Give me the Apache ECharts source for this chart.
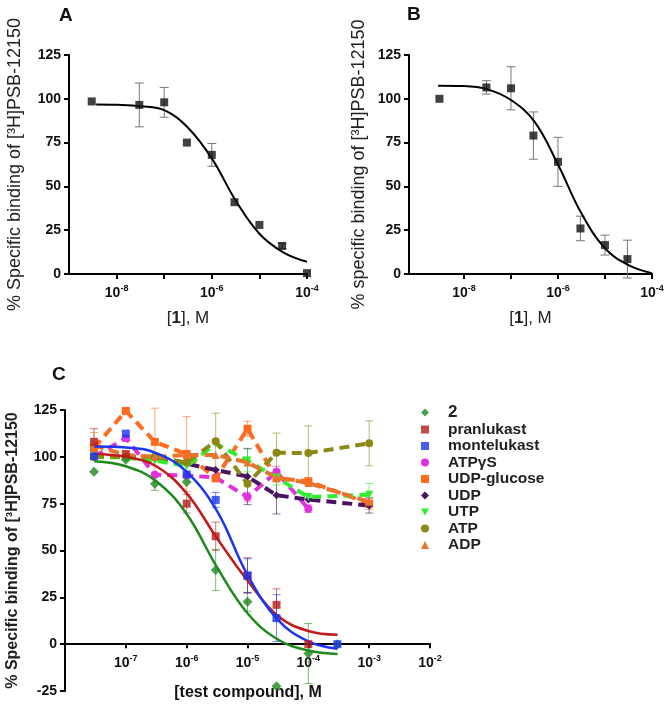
<!DOCTYPE html>
<html>
<head>
<meta charset="utf-8">
<script src="https://cdn.jsdelivr.net/npm/echarts@6/dist/echarts.min.js"></script>
<style>
  html, body { margin: 0; padding: 0; background: #fff; }
  #chart { width: 666px; height: 704px; }
</style>
</head>
<body>
<div id="chart"></div>
<script>
// panel A: [1] at receptor, black squares + fitted curve
var concA = [3e-9, 3e-8, 1e-7, 3e-7, 1e-6, 3e-6, 1e-5, 3e-5, 1e-4];
var bindA = [98.5, 96.5, 98, 75, 68, 41, 28, 16, 0.5];
var sdA = [null, 12.5, 8.5, null, 6.5, null, null, 1.5, null];
var fitLogA = [-8.43, -8, -7.5, -7, -6.5, -6, -5.5, -5, -4.5, -4];
var fitA = [96.8, 96.6, 95.8, 93.5, 83.5, 66, 42, 23, 12.4, 7];

// panel B
var concB = [3e-9, 3e-8, 1e-7, 3e-7, 1e-6, 3e-6, 1e-5, 3e-5];
var bindB = [100, 106.5, 106, 79, 64, 26, 16.5, 8.5];
var sdB = [null, 3.8, 12.3, 13.5, 14, 7, 5.7, 10.8];
var fitLogB = [-8.55, -8, -7.5, -7, -6.5, -6, -5.5, -5, -4.5, -4];
var fitB = [107.5, 107.3, 105.4, 99.3, 87, 62.5, 34.5, 14.7, 5.1, 0.5];

// panel C: test compounds
var concC = [3e-8, 1e-7, 3e-7, 1e-6, 3e-6, 1e-5, 3e-5, 1e-4, 3e-4, 1e-3];
var cmp2 = [92, 98.5, 85.6, 86.5, 39.6, 22.6, -22.5, -5, 0, null];
var sd2 = [null, null, 3.5, null, 11, 5, null, 16, null, null];
var pranlukast = [108, 101.5, null, 75, 57.6, 36.6, 21, 0, null, null];
var sdPran = [7, null, null, 5, 7.5, 9.5, 8.5, null, null, null];
var montelukast = [100.3, 112.4, null, 90.6, 77, 36.6, 13.9, null, 0, null];
var sdMonte = [null, null, null, null, 4, 9, 12.5, null, null, null];
var atpgs = [100, 110, 90.5, 90, 89, 78.5, 92, 72.3, null, null];
var sdAtpgs = [null, null, null, null, null, 2.5, 3, 2, null, null];
var udpGlucose = [104.7, 124.5, 108, 101.5, 88.5, 115, 88.5, 87, null, 75];
var sdUdpGlc = [null, null, 18, 20, null, 4, null, null, null, 3];
var udp = [100, 100, 99, 96.3, 93, 89.5, 79.5, 77.2, null, 74];
var sdUdp = [null, null, null, null, null, 15, 10, null, null, 4];
var utp = [100, 99.5, 98, 95, 107, 98, 89, 78.5, null, 79.8];
var sdUtp = [null, null, null, null, null, 6, 4, null, null, 6];
var atp = [100, 100, 100, 97, 108.3, 85.6, 102.2, 102, null, 107.2];
var sdAtp = [null, null, null, null, 15, null, 10.5, 14.5, null, 12];
var adp = [106, 101, 100, 101, 101, 97, 89, 86, null, 76];
var sdAdp = [7, null, null, null, null, null, null, null, null, null];

// fitted curves in C
var fitLogC = [-7.52, -7, -6.5, -6, -5.5, -5, -4.5, -4, -3.52];
var fit2 = [97.7, 95, 87, 69.5, 41, 16.5, 2.5, -3.4, -5.2];
var fitPran = [101.7, 100, 95, 80.5, 56.5, 34, 15, 7, 5];
var fitMonte = [105.5, 105, 102, 92, 71, 37, 13, 1.5, -2.4];

var FONT = '"Liberation Sans", Arial, sans-serif';

function pts(conc, vals) {
  var out = [];
  for (var i = 0; i < conc.length; i++) {
    if (vals[i] != null) out.push([Math.log10(conc[i]), vals[i]]);
  }
  return out;
}
function curve(logs, vals) {
  return logs.map(function (l, i) { return [l, vals[i]]; });
}
function errs(conc, vals, sd) {
  var out = [];
  for (var i = 0; i < conc.length; i++) {
    if (vals[i] != null && sd[i] != null) {
      out.push([Math.log10(conc[i]), vals[i] - sd[i], vals[i] + sd[i]]);
    }
  }
  return out;
}

function errRender(color, cap) {
  return function (params, api) {
    var x = api.value(0);
    var a = api.coord([x, api.value(1)]);
    var b = api.coord([x, api.value(2)]);
    var st = { stroke: color, lineWidth: 1 };
    return {
      type: 'group',
      children: [
        { type: 'line', shape: { x1: a[0], y1: a[1], x2: b[0], y2: b[1] }, style: st },
        { type: 'line', shape: { x1: a[0] - cap, y1: a[1], x2: a[0] + cap, y2: a[1] }, style: st },
        { type: 'line', shape: { x1: b[0] - cap, y1: b[1], x2: b[0] + cap, y2: b[1] }, style: st }
      ]
    };
  };
}

var expRich = {
  b: { fontFamily: FONT, fontWeight: 'bold', fontSize: 14, lineHeight: 18, color: '#111' },
  e: { fontFamily: FONT, fontWeight: 'bold', fontSize: 9, lineHeight: 10, color: '#111', verticalAlign: 'top' }
};
function expLabel(v) { return '{b|10}{e|' + Math.round(v) + '}'; }

var axisLine = { show: true, onZero: false, lineStyle: { color: '#000', width: 2 } };
var tick = { show: true, length: 5, lineStyle: { color: '#000', width: 2 } };
var yLabel = { fontFamily: FONT, fontWeight: 'bold', fontSize: 14, color: '#111', margin: 8 };

function xAxisAB(idx, min) {
  return {
    type: 'value', gridIndex: idx, min: min, max: -4,
    axisLine: axisLine,
    axisTick: Object.assign({ customValues: [-8, -7, -6, -5, -4] }, tick),
    axisLabel: { customValues: [-8, -6, -4], formatter: expLabel, rich: expRich, margin: 10 },
    splitLine: { show: false },
    name: '[{k|1}], M', nameLocation: 'middle', nameGap: 36,
    nameTextStyle: {
      fontFamily: FONT, fontSize: 17, color: '#222',
      rich: { k: { fontFamily: FONT, fontSize: 17, fontWeight: 'bold', color: '#222' } }
    }
  };
}
function yAxisAB(idx, name, gap) {
  return {
    type: 'value', gridIndex: idx, min: 0, max: 125, interval: 25,
    axisLine: axisLine, axisTick: tick, axisLabel: yLabel,
    splitLine: { show: false },
    name: name, nameLocation: 'middle', nameGap: gap,
    nameTextStyle: { fontFamily: FONT, fontSize: 18, color: '#222' }
  };
}

var downTri = 'path://M0,0L10,0L5,9Z';
var cSeries = [
  { name: '2', data: cmp2, sd: sd2, color: '#1e8a1e', symbol: 'diamond', size: 10, line: false },
  { name: 'pranlukast', data: pranlukast, sd: sdPran, color: '#b51a1a', symbol: 'rect', size: 8, line: false },
  { name: 'montelukast', data: montelukast, sd: sdMonte, color: '#1a36f0', symbol: 'rect', size: 8, line: false },
  { name: 'ATPγS', data: atpgs, sd: sdAtpgs, color: '#e030e0', symbol: 'circle', size: 8, line: true },
  { name: 'UDP-glucose', data: udpGlucose, sd: sdUdpGlc, color: '#ff6a1e', symbol: 'rect', size: 8, line: true },
  { name: 'UDP', data: udp, sd: sdUdp, color: '#4a1462', symbol: 'diamond', size: 8, line: true },
  { name: 'UTP', data: utp, sd: sdUtp, color: '#2ef02e', symbol: downTri, size: 8, line: true },
  { name: 'ATP', data: atp, sd: sdAtp, color: '#8c8a16', symbol: 'circle', size: 8, line: true },
  { name: 'ADP', data: adp, sd: sdAdp, color: '#e8742c', symbol: 'triangle', size: 8, line: true }
];

var series = [];
// panel A
series.push({ type: 'custom', xAxisIndex: 0, yAxisIndex: 0, z: 1, renderItem: errRender('#777', 4.5),
  encode: { x: 0, y: [1, 2] }, data: errs(concA, bindA, sdA) });
series.push({ type: 'line', xAxisIndex: 0, yAxisIndex: 0, z: 2, smooth: 0.4, showSymbol: false,
  lineStyle: { color: '#000', width: 2 }, data: curve(fitLogA, fitA) });
series.push({ type: 'scatter', xAxisIndex: 0, yAxisIndex: 0, z: 3, symbol: 'rect', symbolSize: 8,
  itemStyle: { color: '#111' }, data: pts(concA, bindA) });
// panel B
series.push({ type: 'custom', xAxisIndex: 1, yAxisIndex: 1, z: 1, renderItem: errRender('#777', 4.5),
  encode: { x: 0, y: [1, 2] }, data: errs(concB, bindB, sdB) });
series.push({ type: 'line', xAxisIndex: 1, yAxisIndex: 1, z: 2, smooth: 0.4, showSymbol: false,
  lineStyle: { color: '#000', width: 2 }, data: curve(fitLogB, fitB) });
series.push({ type: 'scatter', xAxisIndex: 1, yAxisIndex: 1, z: 3, symbol: 'rect', symbolSize: 8,
  itemStyle: { color: '#111' }, data: pts(concB, bindB) });
// panel C
cSeries.forEach(function (s) {
  series.push({ type: 'custom', xAxisIndex: 2, yAxisIndex: 2, z: 1,
    renderItem: errRender(echarts.color.modifyAlpha(s.color, 0.6), 4),
    encode: { x: 0, y: [1, 2] }, data: errs(concC, s.data, s.sd) });
});
cSeries.forEach(function (s) {
  if (s.line) {
    series.push({ name: s.name, type: 'line', xAxisIndex: 2, yAxisIndex: 2, z: 2,
      symbol: s.symbol, symbolSize: s.size, itemStyle: { color: s.color },
      lineStyle: { color: s.color, width: 4, type: [10, 6] }, data: pts(concC, s.data) });
  } else {
    series.push({ name: s.name, type: 'scatter', xAxisIndex: 2, yAxisIndex: 2, z: 4,
      symbol: s.symbol, symbolSize: s.size, itemStyle: { color: s.color }, data: pts(concC, s.data) });
  }
});
[[fit2, '#1e8a1e'], [fitPran, '#c01c1c'], [fitMonte, '#1a36f0']].forEach(function (f) {
  series.push({ type: 'line', xAxisIndex: 2, yAxisIndex: 2, z: 3, smooth: 0.4, showSymbol: false,
    lineStyle: { color: f[1], width: 2.5 }, data: curve(fitLogC, f[0]) });
});

var chart = echarts.init(document.getElementById('chart'));
chart.setOption({
  animation: false,
  backgroundColor: '#fff',
  title: [
    { text: 'A', left: 54, top: 1, textStyle: { fontFamily: FONT, fontSize: 19, fontWeight: 'bold', color: '#111' } },
    { text: 'B', left: 402, top: 0, textStyle: { fontFamily: FONT, fontSize: 19, fontWeight: 'bold', color: '#111' } },
    { text: 'C', left: 47, top: 360, textStyle: { fontFamily: FONT, fontSize: 19, fontWeight: 'bold', color: '#111' } }
  ],
  graphic: [
    { type: 'text', x: 248, y: 693, style: { text: '[test compound], M', textAlign: 'center', textVerticalAlign: 'middle',
      font: 'bold 16px "Liberation Sans", Arial, sans-serif', fill: '#111' } }
  ],
  legend: {
    orient: 'vertical', left: 416, top: 399, itemWidth: 8, itemHeight: 8, itemGap: 0.5,
    textStyle: { fontFamily: FONT, fontWeight: 'bold', fontSize: 15.5, color: '#222', padding: [0, 0, 0, 14] },
    data: [
      { name: '2', icon: 'diamond', textStyle: { fontSize: 17 } },
      { name: 'pranlukast', icon: 'rect' },
      { name: 'montelukast', icon: 'rect' },
      { name: 'ATPγS', icon: 'circle' },
      { name: 'UDP-glucose', icon: 'rect' },
      { name: 'UDP', icon: 'diamond' },
      { name: 'UTP', icon: downTri },
      { name: 'ATP', icon: 'circle' },
      { name: 'ADP', icon: 'triangle' }
    ]
  },
  grid: [
    { left: 69, top: 55, width: 238, height: 219, outerBoundsMode: 'none' },
    { left: 409, top: 55, width: 243, height: 219, outerBoundsMode: 'none' },
    { left: 65, top: 410, width: 365, height: 281, outerBoundsMode: 'none' },
    // holds the visible x axis of C, its bottom sits at y = 0
    { left: 65, top: 410, width: 365, height: 233.3, outerBoundsMode: 'none' }
  ],
  xAxis: [
    xAxisAB(0, -9),
    xAxisAB(1, -9.17),
    { type: 'value', gridIndex: 2, min: -8, max: -2, show: false },
    {
      type: 'value', gridIndex: 3, min: -8, max: -2,
      axisLine: axisLine,
      axisTick: Object.assign({ customValues: [-7, -6, -5, -4, -3, -2] }, tick),
      axisLabel: { customValues: [-7, -6, -5, -4, -3, -2], formatter: expLabel, rich: expRich, margin: 11 },
      splitLine: { show: false }
    }
  ],
  yAxis: [
    yAxisAB(0, '% Specific binding of [³H]PSB-12150', 45),
    yAxisAB(1, '% specific binding of [³H]PSB-12150', 41),
    {
      type: 'value', gridIndex: 2, min: -25, max: 125, interval: 25,
      axisLine: axisLine, axisTick: tick, axisLabel: yLabel,
      splitLine: { show: false },
      name: '% Specific binding of [³H]PSB-12150', nameLocation: 'middle', nameGap: 44,
      nameTextStyle: { fontFamily: FONT, fontSize: 16, fontWeight: 'bold', color: '#222' }
    },
    { type: 'value', gridIndex: 3, min: 0, max: 1, show: false }
  ],
  series: series
});
</script>
</body>
</html>
